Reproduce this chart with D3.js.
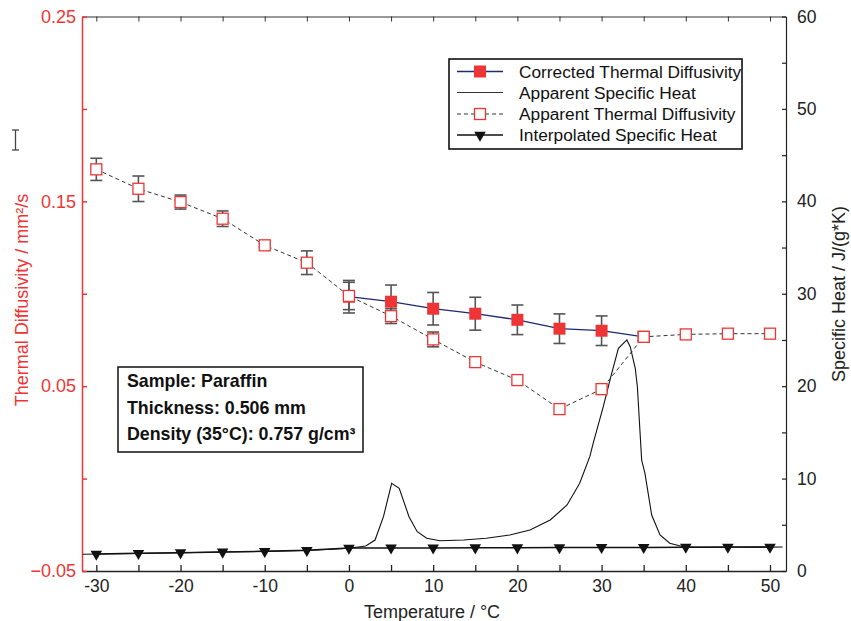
<!DOCTYPE html>
<html>
<head>
<meta charset="utf-8">
<script src="https://cdn.jsdelivr.net/npm/d3@7"></script>
<style>
  body { margin: 0; background: #fff; }
  svg { display: block; font-family: 'Liberation Sans', Arial, sans-serif; }
</style>
</head>
<body>
<svg id="chart"></svg>
<script>
// temperatures (°C) of the measurement points
const temps = [-30, -25, -20, -15, -10, -5, 0, 5, 10, 15, 20, 25, 30, 35, 40, 45, 50]
// apparent thermal diffusivity (mm²/s) and its error
const apparentDiff = [0.1673, 0.1568, 0.1496, 0.1406, 0.1262, 0.1168, 0.0988, 0.0879, 0.0753, 0.0630, 0.0533, 0.0376, 0.0484, 0.0767, 0.0780, 0.0784, 0.0784]
const apparentErr  = [0.0060, 0.0069, 0.0038, 0.0042, 0.0010, 0.0064, 0.0074, 0.0040, 0.0040, 0, 0, 0, 0, 0.0020, 0, 0, 0]
// corrected thermal diffusivity, only in the melting range
const correctedTemps = [0, 5, 10, 15, 20, 25, 30, 35]
const correctedDiff  = [0.0984, 0.0957, 0.0919, 0.0892, 0.0859, 0.0811, 0.0800, 0.0767]
const correctedErr   = [0.0088, 0.0090, 0.0088, 0.0089, 0.0080, 0.0080, 0.0080, 0.0020]
// interpolated specific heat (J/(g*K)) at the measurement temperatures
const interpCp = [1.84, 1.91, 1.98, 2.06, 2.13, 2.24, 2.49, 2.50, 2.50, 2.52, 2.52, 2.53, 2.55, 2.55, 2.58, 2.60, 2.60]
// apparent specific heat from DSC
const cpTemps = [-31.6, -25, -20, -15, -10, -5, -2, 0, 2, 3.1, 4.1, 5.07, 5.97, 7.13, 8.11, 9.23, 10.8, 13.6, 16.3, 19.1, 21.5, 23.9, 25.9, 27.4, 28.6, 29.0, 30.2, 31.2, 32.0, 33.0, 33.4, 34.0, 34.25, 34.76, 35.15, 35.95, 36.94, 38.1, 39.7, 41.3, 45, 50, 51.5]
const cpValues = [1.82, 1.90, 1.97, 2.05, 2.12, 2.22, 2.35, 2.46, 2.70, 3.35, 5.88, 9.49, 8.95, 5.88, 4.25, 3.54, 3.28, 3.35, 3.54, 3.90, 4.44, 5.52, 7.14, 9.49, 12.37, 13.8, 17.78, 21.39, 24.1, 25.0, 24.27, 21.93, 19.94, 12.0, 10.57, 6.06, 3.90, 3.0, 2.63, 2.56, 2.57, 2.58, 2.60]

const xTicks = [-30, -25, -20, -15, -10, -5, 0, 5, 10, 15, 20, 25, 30, 35, 40, 45, 50]
const leftTicks = [-0.05, 0, 0.05, 0.1, 0.15, 0.2, 0.25]
const leftLabels = [-0.05, 0.05, 0.15, 0.25]
const rightTicks = [0, 5, 10, 15, 20, 25, 30, 35, 40, 45, 50, 55, 60]

const legendItems = ['Corrected Thermal Diffusivity', 'Apparent Specific Heat', 'Apparent Thermal Diffusivity', 'Interpolated Specific Heat']
const noteLines = ['Sample: Paraffin', 'Thickness: 0.506 mm', 'Density (35°C): 0.757 g/cm³']

const width = 851, height = 621
const margin = {top: 16.5, right: 65, bottom: 50, left: 82}
const red = '#ee3535'
const navy = '#1d2a70'

const svg = d3.select('#chart').attr('width', width).attr('height', height)

const x = d3.scaleLinear().domain([-31.7, 51.9]).range([margin.left, width - margin.right])
const yL = d3.scaleLinear().domain([-0.05, 0.25]).range([height - margin.bottom, margin.top])
const yR = d3.scaleLinear().domain([0, 60]).range([height - margin.bottom, margin.top])

// axes, ticks all point inwards
svg.append('g')
    .attr('transform', 'translate(0,' + margin.top + ')')
    .call(d3.axisTop(x).tickValues(xTicks).tickSize(-5).tickSizeOuter(0).tickFormat(''))
    .call(g => g.selectAll('path,line').attr('stroke', '#333'))

svg.append('g')
    .attr('transform', 'translate(0,' + (height - margin.bottom) + ')')
    .call(d3.axisBottom(x).tickValues(xTicks).tickSize(-6).tickSizeOuter(0).tickPadding(9)
        .tickFormat(d => d % 10 === 0 ? d : ''))
    .call(g => g.selectAll('path,line').attr('stroke', '#222').attr('stroke-width', 1.3))
    .call(g => g.selectAll('text').attr('font-size', 17.5).attr('fill', '#222').attr('font-family', null))

svg.append('g')
    .attr('transform', 'translate(' + (width - margin.right) + ',0)')
    .call(d3.axisRight(yR).tickValues(rightTicks).tickSize(-4).tickSizeOuter(0).tickPadding(11)
        .tickFormat(d => d % 10 === 0 ? d : ''))
    .call(g => g.selectAll('path,line').attr('stroke', '#222').attr('stroke-width', 1.2))
    .call(g => g.selectAll('text').attr('font-size', 17.5).attr('fill', '#222').attr('font-family', null))

svg.append('g')
    .attr('transform', 'translate(' + margin.left + ',0)')
    .call(d3.axisLeft(yL).tickValues(leftTicks).tickSize(-5).tickSizeOuter(0).tickPadding(6)
        .tickFormat(d => leftLabels.some(v => Math.abs(v - d) < 1e-9) ? d3.format('.2f')(d) : ''))
    .call(g => g.selectAll('path,line').attr('stroke', red).attr('stroke-width', 1.5))
    .call(g => g.selectAll('text').attr('font-size', 18).attr('fill', red).attr('font-family', null))

// axis titles
svg.append('text')
    .attr('transform', 'translate(28,' + 300 + ') rotate(-90)')
    .attr('text-anchor', 'middle').attr('font-size', 18).attr('fill', red)
    .text('Thermal Diffusivity / mm²/s')
svg.append('text')
    .attr('transform', 'translate(845,' + 294 + ') rotate(-90)')
    .attr('text-anchor', 'middle').attr('font-size', 18).attr('fill', '#222')
    .text('Specific Heat / J/(g*K)')
svg.append('text')
    .attr('x', (margin.left + width - margin.right) / 2 - 2).attr('y', 618)
    .attr('text-anchor', 'middle').attr('font-size', 18).attr('fill', '#222')
    .text('Temperature / °C')

const plot = svg.append('g')

// apparent specific heat (thin line)
const cpData = cpTemps.map((t, i) => ({t, v: cpValues[i]}))
plot.append('path')
    .datum(cpData)
    .attr('fill', 'none').attr('stroke', '#111').attr('stroke-width', 1.1)
    .attr('d', d3.line().x(d => x(d.t)).y(d => yR(d.v)))

// interpolated specific heat
const interpData = temps.map((t, i) => ({t, v: interpCp[i]}))
plot.append('path')
    .datum(interpData)
    .attr('fill', 'none').attr('stroke', '#111').attr('stroke-width', 1.5)
    .attr('d', d3.line().x(d => x(d.t)).y(d => yR(d.v)))
const tri = d3.symbol().type(d3.symbolTriangle).size(58)
plot.append('g').selectAll('path')
    .data(interpData)
    .join('path')
        .attr('d', tri)
        .attr('fill', '#111')
        .attr('transform', d => 'translate(' + x(d.t) + ',' + yR(d.v) + ') rotate(180)')

// apparent thermal diffusivity dashed line
const appData = temps.map((t, i) => ({t, v: apparentDiff[i], e: apparentErr[i]}))
plot.append('path')
    .datum(appData)
    .attr('fill', 'none').attr('stroke', '#333').attr('stroke-width', 1).attr('stroke-dasharray', '4,3')
    .attr('d', d3.line().x(d => x(d.t)).y(d => yL(d.v)))

// corrected thermal diffusivity
const corData = correctedTemps.map((t, i) => ({t, v: correctedDiff[i], e: correctedErr[i]}))

function errorBars(data) {
    const g = plot.append('g').attr('stroke', '#555').attr('stroke-width', 1.6)
    data.filter(d => d.e > 0).forEach(d => {
        const cx = x(d.t), y1 = yL(d.v - d.e), y2 = yL(d.v + d.e)
        g.append('line').attr('x1', cx).attr('x2', cx).attr('y1', y1).attr('y2', y2)
        g.append('line').attr('x1', cx - 6).attr('x2', cx + 6).attr('y1', y1).attr('y2', y1)
        g.append('line').attr('x1', cx - 6).attr('x2', cx + 6).attr('y1', y2).attr('y2', y2)
    })
}
errorBars(corData)
errorBars(appData)

plot.append('path')
    .datum(corData)
    .attr('fill', 'none').attr('stroke', navy).attr('stroke-width', 1.3)
    .attr('d', d3.line().x(d => x(d.t)).y(d => yL(d.v)))
plot.append('g').selectAll('rect')
    .data(corData)
    .join('rect')
        .attr('x', d => x(d.t) - 6).attr('y', d => yL(d.v) - 6)
        .attr('width', 12).attr('height', 12)
        .attr('fill', red)

plot.append('g').selectAll('rect')
    .data(appData)
    .join('rect')
        .attr('x', d => x(d.t) - 5.5).attr('y', d => yL(d.v) - 5.5)
        .attr('width', 11).attr('height', 11)
        .attr('fill', '#fff').attr('stroke', red).attr('stroke-width', 1.3)

// legend
const lg = svg.append('g').attr('transform', 'translate(449,59)')
lg.append('rect').attr('width', 293).attr('height', 90)
    .attr('fill', '#fff').attr('stroke', '#111').attr('stroke-width', 1.6)
const rowY = [12.5, 33.5, 55, 76]
legendItems.forEach((name, i) => {
    const r = lg.append('g').attr('transform', 'translate(0,' + rowY[i] + ')')
    const line = r.append('line').attr('x1', 8).attr('x2', 54).attr('y1', 0).attr('y2', 0)
    if (i === 0) {
        line.attr('stroke', navy).attr('stroke-width', 1.3)
        r.append('rect').attr('x', 25).attr('y', -6).attr('width', 12).attr('height', 12).attr('fill', red)
    } else if (i === 1) {
        line.attr('stroke', '#333').attr('stroke-width', 1.1)
    } else if (i === 2) {
        line.attr('stroke', '#333').attr('stroke-dasharray', '4,3')
        r.append('rect').attr('x', 25.5).attr('y', -5.5).attr('width', 11).attr('height', 11)
            .attr('fill', '#fff').attr('stroke', red).attr('stroke-width', 1.3)
    } else {
        line.attr('stroke', '#111').attr('stroke-width', 1.5)
        r.append('path').attr('d', tri).attr('fill', '#111').attr('transform', 'translate(31,0) rotate(180)')
    }
    r.append('text').attr('x', 70).attr('dy', '0.35em').attr('font-size', 17.3).attr('fill', '#111').text(name)
})

// sample annotation
const nb = svg.append('g').attr('transform', 'translate(118,367)')
nb.append('rect').attr('width', 245).attr('height', 85)
    .attr('fill', '#fff').attr('stroke', '#111').attr('stroke-width', 1.5)
noteLines.forEach((t, i) => {
    nb.append('text').attr('x', 9).attr('y', 14 + i * 26.5).attr('dy', '0.35em')
        .attr('font-size', 17.8).attr('font-weight', 'bold').attr('fill', '#111').text(t)
})

// stray error bar glyph left of the plot
const eg = svg.append('g').attr('stroke', '#444').attr('stroke-width', 1.3)
eg.append('line').attr('x1', 15.5).attr('x2', 15.5).attr('y1', 130).attr('y2', 150)
eg.append('line').attr('x1', 12).attr('x2', 19).attr('y1', 130).attr('y2', 130)
eg.append('line').attr('x1', 12).attr('x2', 19).attr('y1', 150).attr('y2', 150)
</script>
</body>
</html>
